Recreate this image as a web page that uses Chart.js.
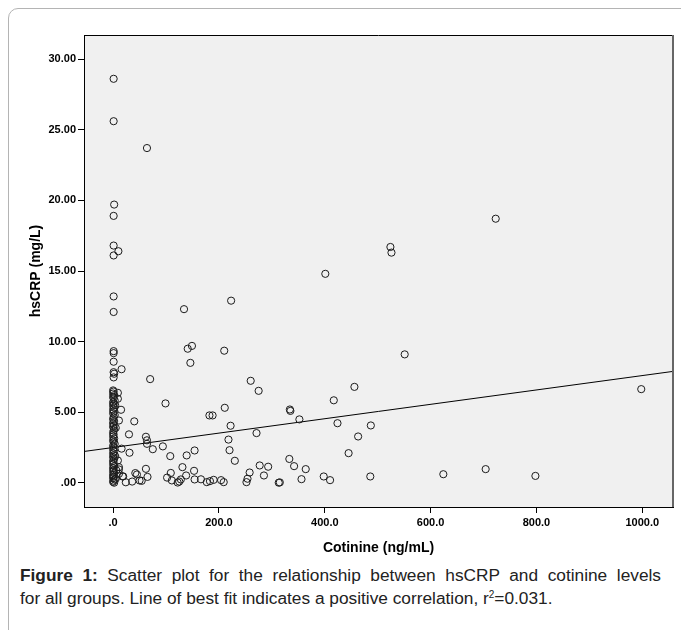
<!DOCTYPE html>
<html lang="en">

<head>
    <meta charset="UTF-8">
    <title>hsCRP vs cotinine</title>
    <style>
        body {
            margin: 0;
            background: #fff;
            width: 681px;
            height: 630px;
            overflow: hidden;
            position: relative;
            font-family: Arial, "Liberation Sans", sans-serif;
        }

        .frame {
            position: absolute;
            left: 8px;
            top: 8px;
            width: 720px;
            height: 700px;
            border: 1px solid #b4b4b4;
            border-radius: 10px;
        }

        .chart {
            position: absolute;
            left: 0;
            top: 0;
        }

        .caption {
            position: absolute;
            left: 20px;
            top: 564px;
            width: 641px;
            font-size: 17.3px;
            line-height: 23px;
            color: #222;
        }

        .caption .first {
            text-align: justify;
            text-align-last: justify;
        }

        .caption sup {
            font-size: 10px;
            vertical-align: 6px;
            line-height: 0;
        }
    </style>
</head>

<body>
    <div class="frame"></div>
    <canvas class="chart" id="scatter" width="681" height="560"></canvas>
    <div class="caption">
        <div class="first"><b>Figure 1:</b> Scatter plot for the relationship between hsCRP and cotinine levels</div>
        <div>for all groups. Line of best fit indicates a positive correlation, r<sup>2</sup>=0.031.</div>
    </div>

    <script src="https://cdn.jsdelivr.net/npm/chart.js@4.4.1/dist/chart.umd.min.js"></script>
    <script>
        // cotinine (ng/mL) and hsCRP (mg/L)
        const cotinine = [
            1, 1, 64, 2, 1, 1, 10, 1, 1, 1,
            223, 134, 149, 141, 210, 146,
            1, 1, 1, 16, 1, 2, 1, 70, 260, 275,
            723, 524, 526, 401, 551, 456, 417,
            998, 704, 798,
            334, 335, 352, 424, 487, 463, 445, 333, 342, 364, 356, 398, 410, 486, 624, 315,
            99, 182, 188, 211, 222, 271, 218, 220, 230,
            40, 15, 30, 62, 64, 64, 75, 94, 108, 139, 154, 131, 153, 109, 102, 111, 122, 125, 128, 138, 154, 166, 177, 183, 190, 204, 209, 252, 254, 258, 277, 285, 293, 313,
            16, 31, 11, 19, 24, 36, 42, 45, 54, 62, 65, 50,
            9, 9, 11, 9, 11, 11, 18,
            0, 1, 0, 2, 0, 1, 3, 0, 1, 0, 2, 0, 1, 0, 3, 1, 0, 2, 0, 1,
            0, 2, 1, 0, 1, 0, 2, 0, 1, 3, 0, 1, 0, 2, 0, 1, 0, 2, 0, 1,
            0, 2, 0, 1, 0, 2, 0, 1, 0, 3, 1, 0, 2, 5, 6, 4, 5, 4
        ];
        const hscrp = [
            28.6, 25.6, 23.7, 19.7, 18.9, 16.8, 16.4, 16.1, 13.2, 12.1,
            12.9, 12.3, 9.7, 9.5, 9.36, 8.5,
            9.33, 9.19, 8.58, 8.05, 7.84, 7.73, 7.47, 7.35, 7.23, 6.52,
            18.7, 16.7, 16.3, 14.8, 9.1, 6.8, 5.85,
            6.64, 0.98, 0.5,
            5.2, 5.1, 4.5, 4.23, 4.07, 3.29, 2.11, 1.7, 1.19, 0.98, 0.27, 0.46, 0.2, 0.46, 0.62, 0.04,
            5.63, 4.78, 4.78, 5.32, 4.05, 3.53, 3.07, 2.32, 1.57,
            4.36, 5.18, 3.44, 3.27, 3.02, 2.77, 2.39, 2.59, 1.9, 1.95, 2.3, 1.12, 0.86, 0.71, 0.38, 0.18, 0.03, 0.1, 0.25, 0.53, 0.25, 0.26, 0.06, 0.13, 0.22, 0.2, 0.06, 0.06, 0.3, 0.74, 1.24, 0.53, 1.15, 0.02,
            2.43, 2.14, 0.96, 0.47, 0.05, 0.1, 0.7, 0.6, 0.15, 1.0, 0.43, 0.18,
            6.38, 5.96, 4.42, 1.59, 1.12, 0.65, 0.46,
            6.55, 6.47, 6.33, 6.22, 6.1, 5.98, 5.84, 5.71, 5.6, 5.47, 5.33, 5.2, 5.07, 4.93, 4.81, 4.66, 4.52, 4.38, 4.24, 4.1,
            3.97, 3.83, 3.7, 3.55, 3.43, 3.29, 3.15, 3.02, 2.9, 2.77, 2.63, 2.5, 2.36, 2.23, 2.1, 1.97, 1.83, 1.7, 1.56, 1.43,
            1.31, 1.18, 1.05, 0.92, 0.8, 0.68, 0.56, 0.45, 0.34, 0.25, 0.16, 0.08, 0.02, 0.3, 0.9, 1.9, 3.9, 5.5
        ];

        // line of best fit
        const fitIntercept = 2.51;
        const fitSlope = 0.00509;

        // axes
        const xMin = -55, xMax = 1058;
        const yMin = -1.7, yMax = 31.7;
        const xTicks = [0, 200, 400, 600, 800, 1000];
        const xTickLabels = ['.0', '200.0', '400.0', '600.0', '800.0', '1000.0'];
        const yTicks = [0, 5, 10, 15, 20, 25, 30];
        const yTickLabels = ['.00', '5.00', '10.00', '15.00', '20.00', '25.00', '30.00'];

        const points = cotinine.map((v, i) => ({ x: v, y: hscrp[i] }));
        const fitLine = [xMin, xMax].map(v => ({ x: v, y: fitIntercept + fitSlope * v }));

        Chart.defaults.font.family = 'Arial, "Liberation Sans", sans-serif';
        Chart.defaults.color = '#000';

        // grey plot background and the top / right edges of the box
        const plotBox = {
            id: 'plotBox',
            beforeDraw(chart) {
                const a = chart.chartArea, c = chart.ctx;
                c.save();
                c.fillStyle = '#f0f0f0';
                c.fillRect(a.left, a.top, a.right - a.left, a.bottom - a.top);
                c.restore();
            },
            afterDraw(chart) {
                const a = chart.chartArea, c = chart.ctx;
                c.save();
                c.strokeStyle = '#000';
                c.lineWidth = 1;
                c.beginPath();
                c.moveTo(a.left, a.top + 0.5);
                c.lineTo(a.right, a.top + 0.5);
                c.stroke();
                c.strokeStyle = '#666';
                c.lineWidth = 2;
                c.beginPath();
                c.moveTo(a.right, a.top);
                c.lineTo(a.right, a.bottom);
                c.stroke();
                c.restore();
            }
        };

        const tickFont = { size: 11, weight: 'bold' };
        const titleFont = { size: 14, weight: 'bold' };

        new Chart(document.getElementById('scatter'), {
            type: 'scatter',
            data: {
                datasets: [{
                    data: points,
                    pointRadius: 3.6,
                    pointHoverRadius: 3.6,
                    borderWidth: 1,
                    borderColor: '#1c1c1c',
                    backgroundColor: 'rgba(0,0,0,0)'
                }, {
                    type: 'line',
                    data: fitLine,
                    borderColor: '#000',
                    borderWidth: 1,
                    pointRadius: 0,
                    fill: false
                }]
            },
            options: {
                responsive: false,
                animation: false,
                layout: { padding: { top: 35, right: 8, left: 0, bottom: 0 } },
                plugins: {
                    legend: { display: false },
                    tooltip: { enabled: false }
                },
                scales: {
                    x: {
                        type: 'linear',
                        min: xMin,
                        max: xMax,
                        afterBuildTicks: s => { s.ticks = xTicks.map(v => ({ value: v })); },
                        afterFit: s => { s.height = 53; },
                        ticks: {
                            callback: (v, i) => xTickLabels[i],
                            font: tickFont,
                            padding: 3,
                            maxRotation: 0,
                            autoSkip: false
                        },
                        grid: { drawOnChartArea: false, tickLength: 6, color: '#000' },
                        border: { color: '#000' },
                        title: {
                            display: true,
                            text: 'Cotinine (ng/mL)',
                            font: titleFont,
                            padding: { top: 0, bottom: 3 }
                        }
                    },
                    y: {
                        type: 'linear',
                        min: yMin,
                        max: yMax,
                        afterBuildTicks: s => { s.ticks = yTicks.map(v => ({ value: v })); },
                        afterFit: s => { s.width = 84; },
                        ticks: {
                            callback: (v, i) => yTickLabels[i],
                            font: tickFont,
                            padding: 2,
                            autoSkip: false
                        },
                        grid: { drawOnChartArea: false, tickLength: 6, color: '#000' },
                        border: { color: '#000' },
                        title: {
                            display: true,
                            text: 'hsCRP (mg/L)',
                            font: titleFont,
                            padding: { top: 28, bottom: 0 }
                        }
                    }
                }
            },
            plugins: [plotBox]
        });
    </script>
</body>

</html>
